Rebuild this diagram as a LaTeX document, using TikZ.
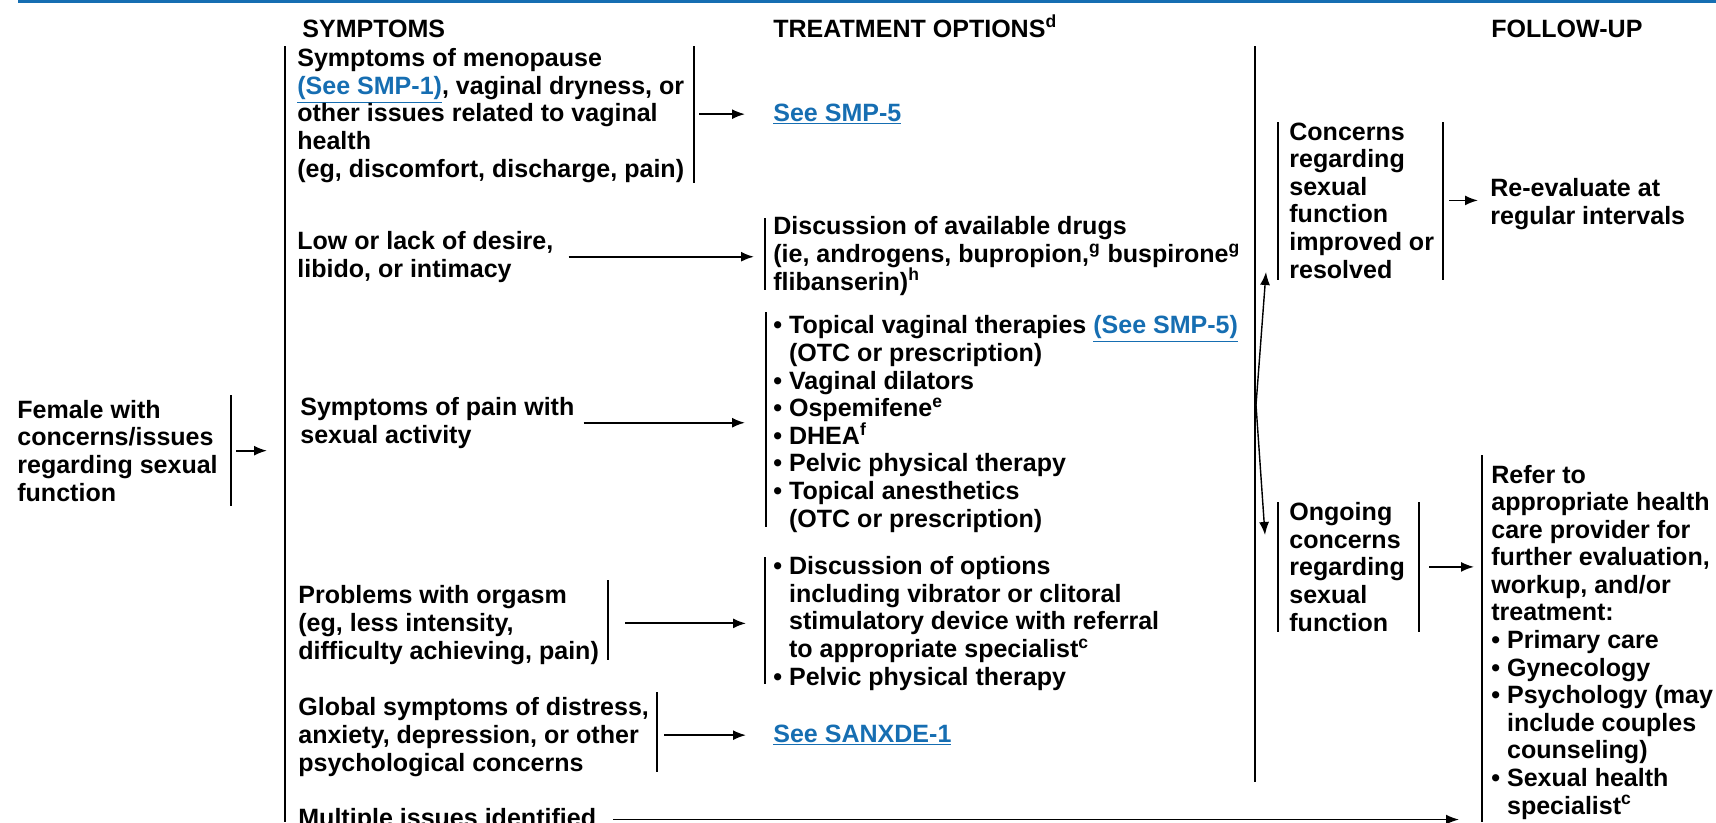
\documentclass[tikz,border=0pt]{standalone}
\usepackage{fontspec}
\setmainfont{Liberation Sans}
\usetikzlibrary{arrows.meta}
\definecolor{linkblue}{RGB}{22,110,178}
\newcommand{\lnk}[1]{\textcolor{linkblue}{\underline{#1}}}
\newcommand{\bul}{\textbullet\ }
\newcommand{\ind}{\hphantom{\textbullet\ }}

\begin{document}
\begin{tikzpicture}[x=0.02cm, y=-0.02cm, every node/.style={font=\fontsize{14.25}{15.7}\selectfont\bfseries, inner sep=0pt, anchor=base west, align=left}, arr/.style={-{Latex[length=2.6mm,width=2mm]}, line width=1pt}, bar/.style={line width=1pt}]
	\useasboundingbox (0,0) rectangle (1716,822);
	\draw[linkblue, line width=1.6pt] (18,1.5) -- (1716,1.5);
	\node (hsym) at (302,37) {SYMPTOMS};
	\node (htreat) at (773,37) {TREATMENT OPTIONS\textsuperscript{d}};
	\node (hfollow) at (1491,37) {FOLLOW-UP};
	\foreach \n/\x/\a/\b in {fbar/231/395/506, symline/285/46/822, s1bar/694/46/183, drugbar/765/218/290, painbar/766/312/527, orgbar/608/580/660, orgtxbar/765/557/684, glbar/657/692/772, colline/1255/46/782, cLbar/1278/122/280, cRbar/1443/122/280, oLbar/1278/502/632, oRbar/1419/502/632, refbar/1482/455/822}
		{\draw[bar] (\x,\a) coordinate (\n) -- (\x,\b);}
	\node (female) at (17,501) {Female with\\concerns/issues\\regarding sexual\\function};
	\node (sym1) at (297,177) {Symptoms of menopause\\\lnk{(See SMP-1)}, vaginal dryness, or\\other issues related to vaginal\\health\\(eg, discomfort, discharge, pain)};
	\node (smp5) at (773,121) {\lnk{See SMP-5}};
	\node (low) at (297,277) {Low or lack of desire,\\libido, or intimacy};
	\node (drugs) at (773,290) {Discussion of available drugs\\(ie, androgens, bupropion,\textsuperscript{g} buspirone\textsuperscript{g}\\flibanserin)\textsuperscript{h}};
	\node (pain) at (300,443) {Symptoms of pain with\\sexual activity};
	\node (paintx) at (773,527) {\bul Topical vaginal therapies \lnk{(See SMP-5)}\\\ind(OTC or prescription)\\\bul Vaginal dilators\\\bul Ospemifene\textsuperscript{e}\\\bul DHEA\textsuperscript{f}\\\bul Pelvic physical therapy\\\bul Topical anesthetics\\\ind(OTC or prescription)};
	\node (orgasm) at (298,659) {Problems with orgasm\\(eg, less intensity,\\difficulty achieving, pain)};
	\node (orgtx) at (773,685) {\bul Discussion of options\\\ind including vibrator or clitoral\\\ind stimulatory device with referral\\\ind to appropriate specialist\textsuperscript{c}\\\bul Pelvic physical therapy};
	\node (global) at (298,771) {Global symptoms of distress,\\anxiety, depression, or other\\psychological concerns};
	\node (sanxde) at (773,742) {\lnk{See SANXDE-1}};
	\node (multi) at (298,826) {Multiple issues identified};
	\node (concern) at (1289,278) {Concerns\\regarding\\sexual\\function\\improved or\\resolved};
	\node (reeval) at (1490,224) {Re-evaluate at\\regular intervals};
	\node (ongoing) at (1289,631) {Ongoing\\concerns\\regarding\\sexual\\function};
	\node (refer) at (1491,814) {Refer to\\appropriate health\\care provider for\\further evaluation,\\workup, and/or\\treatment:\\\bul Primary care\\\bul Gynecology\\\bul Psychology (may\\\ind include couples\\\ind counseling)\\\bul Sexual health\\\ind specialist\textsuperscript{c}};
	\coordinate (split) at (1256,405);
	\coordinate (upend) at (1266,272);
	\coordinate (dnend) at (1265,535);
	\draw[arr, shorten <=1mm, shorten >=3.6mm] (female.east -| fbar) -- (female.east -| symline);
	\draw[arr, shorten <=1mm, shorten >=5.6mm] (smp5.west -| s1bar) -- (smp5.west);
	\draw[arr, shorten <=3mm, shorten >=3.8mm] (low.east) -- (low.east -| drugs.west);
	\draw[arr, shorten <=1.8mm, shorten >=5.6mm] (pain.east) -- (pain.east -| paintx.west);
	\draw[arr, shorten <=3.4mm, shorten >=5.4mm] (orgtx.west -| orgbar) -- (orgtx.west);
	\draw[arr, shorten <=1.4mm, shorten >=5.4mm] (sanxde.west -| glbar) -- (sanxde.west);
	\draw[arr, shorten <=3.4mm, shorten >=6.4mm] (multi.east) -- (multi.east -| refer.west);
	\draw[arr, line width=0.8pt] (split) -- (upend);
	\draw[arr, line width=0.8pt] (split) -- (dnend);
	\draw[arr, shorten <=1.2mm, shorten >=2.4mm] (concern.east -| cRbar) -- (concern.east -| reeval.west);
	\draw[arr, shorten <=2mm, shorten >=3.4mm] (ongoing.east -| oRbar) -- (ongoing.east -| refer.west);
\end{tikzpicture}
\end{document}
